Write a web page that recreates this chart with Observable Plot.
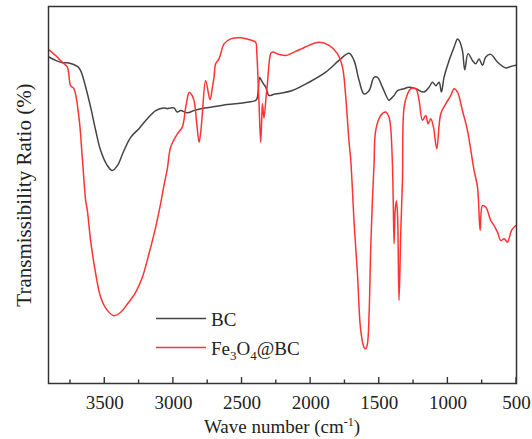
<!DOCTYPE html>
<html>
<head>
<meta charset="utf-8">
<script src="https://cdn.jsdelivr.net/npm/d3@7"></script>
<script src="https://cdn.jsdelivr.net/npm/@observablehq/plot@0.6"></script>
<style>
  html, body { margin: 0; padding: 0; background: #fff; }
  #chart { width: 532px; height: 439px; }
</style>
</head>
<body>
<div id="chart"></div>
<script>
// FTIR spectra: wavenumber (cm^-1) and transmittance (%)
const bcWavenumber = [3907,3858,3809,3761,3700,3676,3639,3603,3566,3530,3481,3445,3408,3360,3311,3251,3190,3129,3069,3044,3020,2996,2971,2947,2898,2850,2801,2728,2607,2486,2400,2388,2371,2359,2344,2327,2303,2267,2218,2133,2012,1890,1793,1720,1684,1647,1611,1574,1538,1513,1477,1429,1416,1392,1367,1319,1283,1234,1174,1137,1112,1088,1064,1047,1028,991,955,930,918,894,877,853,821,797,773,748,724,687,638,578,542,505];
const bcTransmittance = [86.6,85.7,85.1,85.0,84.1,83.0,78.6,73.3,67.1,61.8,57.8,56.5,57.8,61.8,65.3,67.6,70.2,72.4,73.1,72.9,73.1,73.1,72.0,72.4,71.8,72.4,72.9,73.3,74.0,74.5,75.1,75.9,81.2,80.4,79.5,78.6,76.4,76.7,77.0,77.7,79.9,82.6,85.7,87.6,85.7,80.4,76.8,77.7,81.2,81.2,78.6,75.1,75.5,76.4,77.7,78.2,78.6,78.2,77.3,78.6,79.9,79.0,79.9,77.3,81.2,85.7,89.2,91.4,91.0,88.3,83.2,87.5,85.7,84.8,86.1,84.4,86.6,87.3,85.2,83.7,84.1,84.4];

const feWavenumber = [3907,3858,3809,3773,3749,3725,3688,3664,3639,3627,3603,3566,3530,3481,3433,3384,3335,3275,3226,3178,3129,3093,3069,3044,3020,2971,2935,2910,2885,2874,2850,2830,2813,2800,2789,2765,2733,2716,2704,2692,2668,2655,2631,2582,2510,2437,2400,2393,2388,2376,2364,2356,2351,2340,2327,2315,2291,2279,2230,2182,2121,2060,2012,1939,1866,1805,1768,1744,1720,1708,1695,1684,1659,1635,1611,1598,1586,1574,1562,1550,1538,1526,1489,1453,1429,1416,1404,1398,1392,1384,1375,1367,1356,1343,1331,1319,1294,1270,1234,1210,1185,1161,1144,1125,1105,1081,1052,1015,979,955,930,894,857,809,784,765,748,724,687,663,638,614,590,566,536,505];
const feTransmittance = [88.5,87.0,85.2,84.0,79.0,78.2,70.6,60.0,48.5,45.9,37.9,29.1,22.9,19.4,18.0,18.9,21.1,24.2,28.2,34.4,41.5,47.7,52.5,57.0,62.7,66.2,68.0,73.3,77.2,77.0,75.1,69.0,64.0,67.0,71.5,80.4,75.3,78.5,81.2,84.8,86.1,87.5,90.1,91.4,91.7,91.1,90.5,88.0,84.8,74.2,64.0,70.5,74.2,70.4,75.0,79.5,87.5,87.9,87.3,87.0,87.9,88.9,89.7,90.5,89.7,87.5,83.9,75.9,64.0,59.5,51.0,43.0,29.1,14.1,9.6,9.2,10.5,18.5,36.2,48.5,58.0,67.1,71.1,72.0,70.6,67.5,58.0,48.0,37.1,46.0,48.5,45.0,22.0,40.6,53.8,73.3,76.8,78.2,78.2,75.1,69.8,71.1,68.9,70.2,68.0,62.3,71.5,74.2,76.4,78.2,77.3,72.4,67.1,56.5,52.1,40.6,47.2,46.8,43.2,41.9,40.1,37.9,38.4,37.5,40.6,41.9];

const majorTicks = [3500, 3000, 2500, 2000, 1500, 1000, 500];
const minorTicks = [3750, 3250, 2750, 2250, 1750, 1250, 750];

const seriesNames = ["BC", "Fe3O4@BC"];
const seriesColors = ["#444444", "#ff3333"];

const bc = bcWavenumber.map((wn, i) => ({wn, t: bcTransmittance[i]}));
const fe = feWavenumber.map((wn, i) => ({wn, t: feTransmittance[i]}));

const FONT = "'Liberation Serif', 'Times New Roman', serif";
const W = 532, H = 439, ML = 48, MR = 16, MT = 6, MB = 56;

const chart = Plot.plot({
  width: W,
  height: H,
  marginLeft: ML,
  marginRight: MR,
  marginTop: MT,
  marginBottom: MB,
  style: {fontFamily: FONT, fontSize: "19px", color: "#222", background: "#fff"},
  x: {domain: [3910, 500], label: null},
  y: {domain: [0, 100], axis: null, label: null},
  marks: [
    Plot.line(bc, {x: "wn", y: "t", stroke: seriesColors[0], strokeWidth: 1.5, curve: "catmull-rom"}),
    Plot.line(fe, {x: "wn", y: "t", stroke: seriesColors[1], strokeWidth: 1.5, curve: "catmull-rom"}),
    Plot.axisX(majorTicks, {tickSize: 0, tickPadding: 12, tickFormat: d3.format("d"), label: null, fontSize: 19}),
    Plot.frame({stroke: "#333", strokeWidth: 1.5})
  ]
});

document.getElementById("chart").appendChild(chart);

const svg = d3.select(chart);
const sx = chart.scale("x");
const bottom = H - MB;

// Inward-pointing ticks along the bottom edge
const tickG = svg.append("g").attr("stroke", "#333").attr("stroke-width", 1.4);
majorTicks.forEach(v => {
  const x = sx.apply(v);
  tickG.append("line").attr("x1", x).attr("x2", x).attr("y1", bottom).attr("y2", bottom - 6);
});
minorTicks.forEach(v => {
  const x = sx.apply(v);
  tickG.append("line").attr("x1", x).attr("x2", x).attr("y1", bottom).attr("y2", bottom - 3.5);
});

// Axis titles
const xTitle = svg.append("text")
  .attr("x", 282).attr("y", 433)
  .attr("text-anchor", "middle")
  .attr("font-family", FONT).attr("font-size", 19).attr("fill", "#222");
xTitle.append("tspan").text("Wave number (cm");
xTitle.append("tspan").attr("dy", -7).attr("font-size", 12).text("-1");
xTitle.append("tspan").attr("dy", 7).text(")");

svg.append("text")
  .attr("transform", "translate(31,195) rotate(-90)")
  .attr("text-anchor", "middle")
  .attr("font-family", FONT).attr("font-size", 21).attr("fill", "#222")
  .text("Transmissibility Ratio (%)");

// Legend
const legendY = [318.5, 347.5];
const legend = svg.append("g");
seriesNames.forEach((name, i) => {
  legend.append("line")
    .attr("x1", 156).attr("x2", 206)
    .attr("y1", legendY[i]).attr("y2", legendY[i])
    .attr("stroke", seriesColors[i]).attr("stroke-width", 1.5);
  const t = legend.append("text")
    .attr("x", 211).attr("y", legendY[i] + 7)
    .attr("text-anchor", "start")
    .attr("font-family", FONT).attr("font-size", 19).attr("fill", "#222");
  if (name === "Fe3O4@BC") {
    t.append("tspan").text("Fe");
    t.append("tspan").attr("dy", 5).attr("font-size", 13).text("3");
    t.append("tspan").attr("dy", -5).text("O");
    t.append("tspan").attr("dy", 5).attr("font-size", 13).text("4");
    t.append("tspan").attr("dy", -5).text("@BC");
  } else {
    t.text(name);
  }
});
</script>
</body>
</html>
